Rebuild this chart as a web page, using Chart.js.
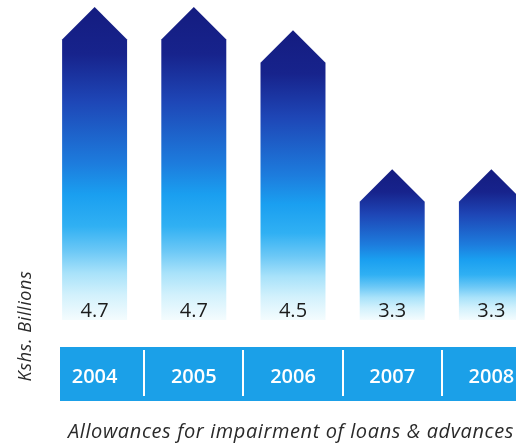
<!DOCTYPE html>
<html>
<head>
<meta charset="utf-8">
<script src="https://cdn.jsdelivr.net/npm/chart.js@4.4.1/dist/chart.umd.min.js"></script>
<style>
  html, body { margin: 0; padding: 0; background: #fff; overflow: hidden; }
  #wrap { width: 541px; height: 444px; }
  canvas { display: block; width: 541px; height: 444px; }
</style>
</head>
<body>
<div id="wrap"><canvas id="allowanceChart" width="541" height="444"></canvas></div>
<script>
const years = ['2004', '2005', '2006', '2007', '2008'];
const allowances = [4.7, 4.7, 4.5, 3.3, 3.3];
const yTitle = 'Kshs. Billions';
const caption = 'Allowances for impairment of loans & advances';

const bandColor = '#1ba0e8';
const visibleWidth = 516;

// arrow shaped bars with a dark-to-pale gradient, value printed near the foot,
// plus the blue year band underneath
const arrowBars = {
    id: 'arrowBars',
    beforeDraw(chart) {
        const { ctx, chartArea, scales } = chart;
        const x = scales.x;
        const top = chartArea.bottom + 27;
        const bottom = top + 54;
        ctx.save();
        ctx.fillStyle = bandColor;
        ctx.fillRect(60, top, chart.width - 60, bottom - top);

        // white dividers between the years
        ctx.strokeStyle = '#fff';
        ctx.lineWidth = 2;
        for (let i = 0; i < years.length - 1; i++) {
            const sx = Math.round((x.getPixelForValue(i) + x.getPixelForValue(i + 1)) / 2);
            ctx.beginPath();
            ctx.moveTo(sx, top + 3);
            ctx.lineTo(sx, bottom - 5);
            ctx.stroke();
        }

        ctx.fillStyle = '#fff';
        ctx.font = '600 20px "Open Sans"';
        ctx.textAlign = 'center';
        ctx.textBaseline = 'middle';
        years.forEach((yr, i) => {
            ctx.fillText(yr, x.getPixelForValue(i), top + 30);
        });
        ctx.restore();
    },
    afterDatasetsDraw(chart) {
        const { ctx } = chart;
        const meta = chart.getDatasetMeta(0);
        ctx.save();
        meta.data.forEach((bar, i) => {
            const half = bar.width / 2;
            const g = ctx.createLinearGradient(0, bar.y, 0, bar.base);
            g.addColorStop(0, '#141c80');
            g.addColorStop(0.15, '#17238c');
            g.addColorStop(0.3, '#1e46b6');
            g.addColorStop(0.5, '#1d7cdd');
            g.addColorStop(0.6, '#1a9ff0');
            g.addColorStop(0.7, '#30b0f3');
            g.addColorStop(0.78, '#6cc8f6');
            g.addColorStop(0.85, '#a8e2fa');
            g.addColorStop(0.92, '#d2f1fc');
            g.addColorStop(1, '#f4fcfe');
            ctx.fillStyle = g;
            ctx.beginPath();
            ctx.moveTo(bar.x - half, bar.base);
            ctx.lineTo(bar.x - half, bar.y + half);
            ctx.lineTo(bar.x, bar.y);
            ctx.lineTo(bar.x + half, bar.y + half);
            ctx.lineTo(bar.x + half, bar.base);
            ctx.closePath();
            ctx.fill();

            ctx.fillStyle = '#1c1c1c';
            ctx.font = '20px "Open Sans"';
            ctx.textAlign = 'center';
            ctx.textBaseline = 'middle';
            ctx.fillText(allowances[i].toFixed(1), bar.x, bar.base - 9);
        });
        ctx.restore();
    },
    afterDraw(chart) {
        const { ctx } = chart;
        ctx.save();
        ctx.fillStyle = '#2a2a2a';
        ctx.textBaseline = 'middle';

        ctx.font = 'italic 18px "Open Sans"';
        ctx.letterSpacing = '0.6px';
        ctx.translate(26, 326);
        ctx.rotate(-Math.PI / 2);
        ctx.textAlign = 'center';
        ctx.fillText(yTitle, 0, 0);
        ctx.setTransform(1, 0, 0, 1, 0, 0);

        ctx.font = 'italic 20px "Open Sans"';
        ctx.letterSpacing = '0.6px';
        ctx.textAlign = 'right';
        ctx.fillText(caption, visibleWidth - 2, 432);
        ctx.restore();
    }
};

new Chart(document.getElementById('allowanceChart'), {
    type: 'bar',
    data: {
        labels: years,
        datasets: [{
            data: allowances,
            base: 2,
            backgroundColor: 'rgba(0,0,0,0)',
            borderWidth: 0,
            categoryPercentage: 1,
            barPercentage: 0.655
        }]
    },
    options: {
        responsive: false,
        animation: false,
        devicePixelRatio: 1,
        layout: {
            padding: { left: 45, right: 0, top: 0, bottom: 124 }
        },
        scales: {
            x: { display: false },
            y: {
                display: false,
                min: 2,
                max: 4.76
            }
        },
        plugins: {
            legend: { display: false },
            tooltip: { enabled: false }
        }
    },
    plugins: [arrowBars]
});
</script>
</body>
</html>
